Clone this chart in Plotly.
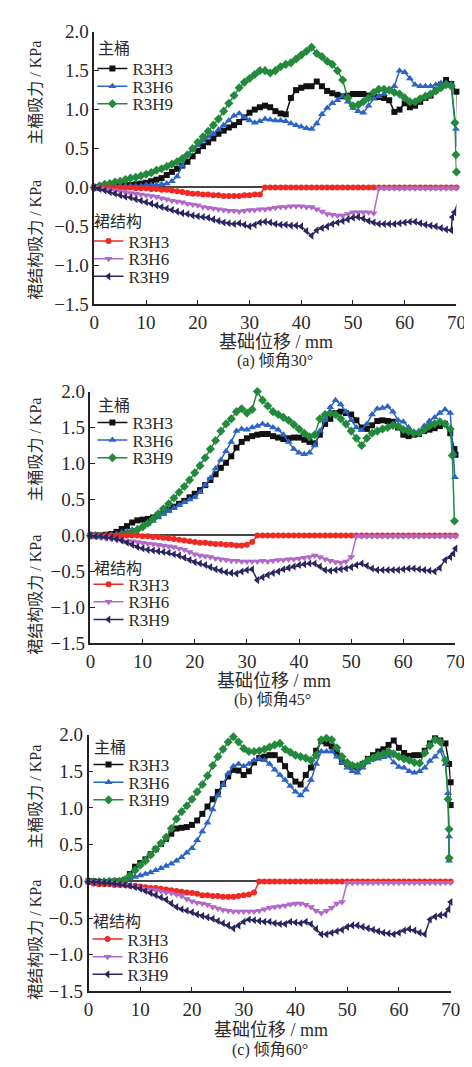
import plotly.graph_objects as go

# ---------------- data ----------------
X = list(range(0, 70))  # sampled displacement positions (mm)

# Panel (a) 30 deg - main bucket
A_MAIN_H3 = [0, 0, 0.01, 0.01, 0.02, 0.02, 0.03, 0.03, 0.04, 0.05, 0.06, 0.08, 0.1, 0.12, 0.16, 0.2,
             0.24, 0.28, 0.33, 0.4, 0.47, 0.53, 0.58, 0.63, 0.69, 0.73, 0.77, 0.8, 0.84, 0.9, 0.96,
             1.0, 1.03, 1.05, 1.03, 0.98, 0.95, 0.94, 1.15, 1.25, 1.28, 1.3, 1.3, 1.36, 1.3, 1.24,
             1.21, 1.19, 1.17, 1.18, 1.2, 1.2, 1.2, 1.18, 1.17, 1.16, 1.15, 1.12, 0.97, 1.0, 1.08,
             1.03, 1.05, 1.1, 1.15, 1.18, 1.25, 1.32, 1.38, 1.33]
A_MAIN_H3_END_X = [70, 70.3]
A_MAIN_H3_END_Y = [1.23, 0.75]
A_MAIN_H6 = [0, 0.01, 0.01, 0.01, 0.01, 0.02, 0.02, 0.02, 0.02, 0.02, 0.03, 0.03, 0.03, 0.04, 0.05, 0.08,
             0.14, 0.28, 0.42, 0.48, 0.54, 0.6, 0.65, 0.69, 0.74, 0.8, 0.86, 0.92, 0.95, 0.9, 0.86,
             0.83, 0.85, 0.88, 0.87, 0.86, 0.86, 0.85, 0.82, 0.8, 0.78, 0.76, 0.75, 0.82, 0.94, 1.02,
             1.08, 1.12, 1.17, 1.1, 1.02, 0.98, 0.96, 1.05, 1.14, 1.17, 1.2, 1.24, 1.3, 1.5, 1.48,
             1.4, 1.32, 1.3, 1.3, 1.3, 1.32, 1.34, 1.34, 1.33]
A_MAIN_H6_END_X = [69.9, 70.1]
A_MAIN_H6_END_Y = [0.75, 0.52]
A_MAIN_H9 = [0, 0.02, 0.04, 0.05, 0.07, 0.08, 0.1, 0.12, 0.13, 0.15, 0.17, 0.19, 0.22, 0.24, 0.27, 0.3,
             0.33, 0.37, 0.42, 0.5, 0.58, 0.65, 0.72, 0.8, 0.88, 0.98, 1.08, 1.18, 1.28, 1.35, 1.4,
             1.45, 1.5, 1.5, 1.47, 1.5, 1.55, 1.58, 1.6, 1.65, 1.7, 1.75, 1.8, 1.72, 1.68, 1.62,
             1.58, 1.5, 1.38, 1.15, 1.05, 1.06, 1.1, 1.15, 1.22, 1.26, 1.26, 1.25, 1.22, 1.2, 1.15,
             1.1, 1.1, 1.14, 1.17, 1.2, 1.24, 1.28, 1.32, 1.3]
A_MAIN_H9_END_X = [69.7, 69.9, 70]
A_MAIN_H9_END_Y = [0.83, 0.42, 0.2]

# Panel (a) - skirt
A_SKIRT_H3 = [0, 0, 0, 0, 0, 0, 0, 0, -0.01, -0.01, -0.01, -0.02, -0.02, -0.03, -0.03, -0.04,
              -0.05, -0.06, -0.07, -0.08, -0.08, -0.09, -0.09, -0.1, -0.1, -0.11, -0.11, -0.11, -0.11,
              -0.1, -0.1, -0.09, -0.09, 0, 0, 0, 0, 0, 0, 0, 0, 0, 0, 0, 0, 0, 0, 0, 0, 0, 0, 0, 0,
              0, 0, 0, 0, 0, 0, 0, 0, 0, 0, 0, 0, 0, 0, 0, 0, 0]
A_SKIRT_H3_END_X = [70]
A_SKIRT_H3_END_Y = [0]
A_SKIRT_H6 = [0, -0.01, -0.02, -0.03, -0.04, -0.05, -0.06, -0.07, -0.08, -0.09, -0.1, -0.11, -0.12,
              -0.14, -0.15, -0.17, -0.18, -0.19, -0.21, -0.22, -0.23, -0.25, -0.26, -0.27, -0.28,
              -0.29, -0.3, -0.3, -0.31, -0.3, -0.29, -0.29, -0.28, -0.28, -0.27, -0.26, -0.25, -0.25,
              -0.24, -0.24, -0.24, -0.25, -0.25, -0.28, -0.31, -0.34, -0.35, -0.36, -0.36, -0.34,
              -0.32, -0.32, -0.32, -0.32, -0.33, -0.01, -0.01, -0.01, -0.01, -0.01, -0.01, -0.01,
              -0.01, -0.01, -0.01, -0.01, -0.01, -0.01, -0.01, -0.01]
A_SKIRT_H6_END_X = [70]
A_SKIRT_H6_END_Y = [-0.01]
A_SKIRT_H9 = [0, -0.02, -0.04, -0.06, -0.08, -0.1, -0.12, -0.13, -0.15, -0.17, -0.19, -0.21, -0.23,
              -0.25, -0.27, -0.29, -0.31, -0.33, -0.34, -0.36, -0.37, -0.38, -0.39, -0.41, -0.43,
              -0.45, -0.46, -0.47, -0.46, -0.48, -0.5, -0.48, -0.45, -0.44, -0.45, -0.47, -0.48,
              -0.48, -0.49, -0.49, -0.5, -0.56, -0.62, -0.55, -0.52, -0.5, -0.47, -0.45, -0.43,
              -0.41, -0.39, -0.38, -0.4, -0.43, -0.45, -0.47, -0.47, -0.47, -0.47, -0.46, -0.45,
              -0.44, -0.44, -0.46, -0.48, -0.49, -0.5, -0.52, -0.54, -0.55]
A_SKIRT_H9_END_X = [69.2, 69.6, 70.2]
A_SKIRT_H9_END_Y = [-0.38, -0.32, -0.21]

# Panel (b) 45 deg - main bucket
B_MAIN_H3 = [0, 0, 0, 0.01, 0.02, 0.05, 0.09, 0.13, 0.18, 0.21, 0.22, 0.23, 0.25, 0.28, 0.32, 0.36,
             0.4, 0.44, 0.48, 0.53, 0.58, 0.63, 0.7, 0.77, 0.85, 0.94, 1.01, 1.1, 1.22, 1.3, 1.35,
             1.38, 1.4, 1.41, 1.41, 1.38, 1.36, 1.34, 1.35, 1.36, 1.36, 1.33, 1.3, 1.28, 1.4, 1.55,
             1.62, 1.7, 1.72, 1.7, 1.68, 1.6, 1.5, 1.48, 1.53, 1.59, 1.6, 1.59, 1.58, 1.5, 1.4,
             1.38, 1.4, 1.41, 1.45, 1.47, 1.49, 1.52, 1.55, 1.42]
B_MAIN_H3_END_X = [69.8, 70]
B_MAIN_H3_END_Y = [1.2, 1.12]
B_MAIN_H6 = [0, 0, 0, 0.01, 0.01, 0.02, 0.04, 0.06, 0.08, 0.1, 0.12, 0.16, 0.2, 0.25, 0.3, 0.34,
             0.38, 0.42, 0.46, 0.5, 0.53, 0.6, 0.7, 0.8, 0.93, 1.05, 1.17, 1.3, 1.45, 1.48, 1.47,
             1.5, 1.52, 1.55, 1.53, 1.5, 1.47, 1.4, 1.3, 1.2, 1.15, 1.13, 1.15, 1.25, 1.45, 1.6,
             1.78, 1.88, 1.82, 1.72, 1.6, 1.5, 1.46, 1.55, 1.68, 1.76, 1.77, 1.79, 1.72, 1.6, 1.58,
             1.5, 1.44, 1.45, 1.52, 1.59, 1.64, 1.7, 1.75, 1.7]
B_MAIN_H6_END_X = [69.6, 69.9]
B_MAIN_H6_END_Y = [1.15, 0.81]
B_MAIN_H9 = [0, 0, -0.01, -0.02, -0.02, -0.01, 0.0, 0.02, 0.05, 0.08, 0.12, 0.17, 0.23, 0.3, 0.37,
             0.44, 0.52, 0.6, 0.68, 0.77, 0.87, 0.97, 1.08, 1.2, 1.32, 1.45, 1.55, 1.62, 1.72, 1.76,
             1.7, 1.75, 2.0, 1.88, 1.8, 1.72, 1.68, 1.64, 1.6, 1.54, 1.48, 1.42, 1.37, 1.4, 1.62,
             1.68, 1.7, 1.68, 1.62, 1.55, 1.45, 1.35, 1.25, 1.35, 1.42, 1.45, 1.48, 1.5, 1.53, 1.52,
             1.47, 1.45, 1.42, 1.42, 1.47, 1.52, 1.55, 1.58, 1.55, 1.48]
B_MAIN_H9_END_X = [69.4, 69.8]
B_MAIN_H9_END_Y = [1.11, 0.2]

# Panel (b) - skirt
B_SKIRT_H3 = [0, 0, 0, 0, 0, 0, 0, 0, 0, 0, -0.01, -0.01, -0.02, -0.02, -0.03, -0.04, -0.05, -0.06,
              -0.07, -0.08, -0.09, -0.1, -0.1, -0.11, -0.12, -0.12, -0.13, -0.13, -0.14, -0.14,
              -0.13, -0.09, 0, 0, 0, 0, 0, 0, 0, 0, 0, 0, 0, 0, 0, 0, 0, 0, 0, 0, 0, 0, 0, 0, 0,
              0, 0, 0, 0, 0, 0, 0, 0, 0, 0, 0, 0, 0, 0, 0]
B_SKIRT_H3_END_X = [70]
B_SKIRT_H3_END_Y = [0]
B_SKIRT_H6 = [0, -0.01, -0.02, -0.03, -0.05, -0.06, -0.07, -0.08, -0.08, -0.09, -0.1, -0.11, -0.12,
              -0.13, -0.14, -0.15, -0.16, -0.18, -0.2, -0.23, -0.26, -0.28, -0.29, -0.3, -0.32,
              -0.33, -0.34, -0.35, -0.35, -0.36, -0.36, -0.36, -0.36, -0.35, -0.36, -0.35, -0.34,
              -0.34, -0.33, -0.33, -0.32, -0.31, -0.3, -0.28, -0.3, -0.33, -0.35, -0.37, -0.38,
              -0.36, -0.3, -0.01, -0.01, -0.01, -0.01, -0.01, -0.01, -0.01, -0.01, -0.01, -0.01,
              -0.01, -0.01, -0.01, -0.01, -0.01, -0.01, -0.01, -0.01, -0.01]
B_SKIRT_H6_END_X = [70]
B_SKIRT_H6_END_Y = [-0.01]
B_SKIRT_H9 = [0, -0.01, -0.01, -0.02, -0.03, -0.05, -0.07, -0.1, -0.13, -0.16, -0.18, -0.2, -0.21,
              -0.22, -0.23, -0.24, -0.26, -0.28, -0.31, -0.34, -0.37, -0.39, -0.41, -0.44, -0.47,
              -0.49, -0.51, -0.52, -0.53, -0.5, -0.48, -0.47, -0.62, -0.58, -0.55, -0.52, -0.5,
              -0.47, -0.45, -0.43, -0.41, -0.4, -0.39, -0.39, -0.43, -0.48, -0.49, -0.48, -0.47,
              -0.46, -0.44, -0.41, -0.39, -0.42, -0.46, -0.48, -0.48, -0.48, -0.48, -0.48, -0.47,
              -0.46, -0.46, -0.47, -0.48, -0.49, -0.5, -0.45, -0.34, -0.3]
B_SKIRT_H9_END_X = [69.6, 70]
B_SKIRT_H9_END_Y = [-0.25, -0.18]

# Panel (c) 60 deg - main bucket
C_MAIN_H3 = [0, 0, -0.01, -0.01, -0.01, 0, 0, 0.02, 0.1, 0.2, 0.25, 0.3, 0.37, 0.44, 0.51, 0.58,
             0.65, 0.72, 0.73, 0.74, 0.77, 0.83, 0.92, 1.02, 1.12, 1.22, 1.33, 1.43, 1.52, 1.51,
             1.45, 1.5, 1.62, 1.68, 1.7, 1.72, 1.72, 1.66, 1.57, 1.45, 1.36, 1.32, 1.45, 1.55, 1.78,
             1.91, 1.88, 1.84, 1.75, 1.63, 1.6, 1.57, 1.55, 1.6, 1.67, 1.72, 1.77, 1.8, 1.86, 1.92,
             1.82, 1.75, 1.71, 1.72, 1.72, 1.78, 1.88, 1.95, 1.92, 1.88]
C_MAIN_H3_END_X = [69.7, 70, 70]
C_MAIN_H3_END_Y = [1.6, 1.35, 1.04]
C_MAIN_H6 = [0, 0.01, 0.01, 0.01, 0.01, 0.01, 0.01, 0.02, 0.04, 0.06, 0.08, 0.1, 0.12, 0.15, 0.18,
             0.21, 0.24, 0.28, 0.33, 0.39, 0.45, 0.56, 0.68, 0.8, 0.98, 1.17, 1.32, 1.47, 1.57, 1.6,
             1.57, 1.6, 1.65, 1.67, 1.65, 1.6, 1.52, 1.45, 1.38, 1.3, 1.22, 1.17, 1.25, 1.38, 1.6,
             1.77, 1.77, 1.77, 1.7, 1.62, 1.55, 1.5, 1.48, 1.55, 1.62, 1.66, 1.67, 1.69, 1.71, 1.62,
             1.56, 1.55, 1.5, 1.48, 1.5, 1.55, 1.64, 1.7, 1.78, 1.6]
C_MAIN_H6_END_X = [69.5, 69.7, 69.7]
C_MAIN_H6_END_Y = [1.2, 0.61, 0.28]
C_MAIN_H9 = [0, -0.01, -0.01, -0.01, 0, 0, 0, 0.02, 0.08, 0.15, 0.22, 0.28, 0.36, 0.44, 0.52, 0.6,
             0.72, 0.85, 0.95, 1.03, 1.12, 1.22, 1.32, 1.44, 1.58, 1.7, 1.8, 1.9, 1.97, 1.9, 1.81,
             1.77, 1.77, 1.78, 1.8, 1.83, 1.86, 1.88, 1.8, 1.76, 1.72, 1.7, 1.68, 1.65, 1.72, 1.93,
             1.95, 1.93, 1.82, 1.7, 1.62, 1.58, 1.57, 1.6, 1.65, 1.68, 1.72, 1.74, 1.77, 1.74, 1.7,
             1.67, 1.65, 1.62, 1.61, 1.75, 1.85, 1.93, 1.9, 1.65]
C_MAIN_H9_END_X = [69.5, 69.7, 69.7]
C_MAIN_H9_END_Y = [1.12, 0.71, 0.32]

# Panel (c) - skirt
C_SKIRT_H3 = [0, -0.03, -0.04, -0.04, -0.04, -0.05, -0.05, -0.05, -0.06, -0.06, -0.07, -0.08, -0.09,
              -0.09, -0.1, -0.11, -0.12, -0.13, -0.14, -0.15, -0.16, -0.17, -0.19, -0.19, -0.2, -0.2,
              -0.21, -0.21, -0.21, -0.2, -0.19, -0.18, -0.15, 0, 0, 0, 0, 0, 0, 0, 0, 0, 0, 0, 0, 0,
              0, 0, 0, 0, 0, 0, 0, 0, 0, 0, 0, 0, 0, 0, 0, 0, 0, 0, 0, 0, 0, 0, 0, 0]
C_SKIRT_H3_END_X = [70]
C_SKIRT_H3_END_Y = [0]
C_SKIRT_H6 = [0, -0.01, -0.01, -0.02, -0.02, -0.03, -0.04, -0.05, -0.06, -0.07, -0.09, -0.1, -0.11,
              -0.12, -0.13, -0.15, -0.16, -0.18, -0.2, -0.24, -0.27, -0.29, -0.3, -0.32, -0.35,
              -0.37, -0.39, -0.4, -0.41, -0.41, -0.41, -0.41, -0.41, -0.4, -0.38, -0.36, -0.35,
              -0.34, -0.33, -0.31, -0.3, -0.3, -0.32, -0.35, -0.4, -0.43, -0.4, -0.36, -0.3, -0.28,
              -0.02, -0.02, -0.02, -0.02, -0.02, -0.02, -0.02, -0.02, -0.02, -0.02, -0.02, -0.02,
              -0.02, -0.02, -0.02, -0.02, -0.02, -0.02, -0.02, -0.02]
C_SKIRT_H6_END_X = [70]
C_SKIRT_H6_END_Y = [-0.02]
C_SKIRT_H9 = [0, -0.01, -0.01, -0.02, -0.02, -0.03, -0.04, -0.05, -0.06, -0.08, -0.1, -0.13, -0.16,
              -0.19, -0.22, -0.25, -0.3, -0.35, -0.38, -0.4, -0.42, -0.45, -0.47, -0.49, -0.51,
              -0.54, -0.57, -0.6, -0.64, -0.6, -0.55, -0.52, -0.53, -0.54, -0.55, -0.55, -0.57,
              -0.58, -0.58, -0.55, -0.56, -0.57, -0.55, -0.58, -0.65, -0.72, -0.72, -0.7, -0.68,
              -0.66, -0.62, -0.6, -0.6, -0.62, -0.64, -0.66, -0.68, -0.7, -0.71, -0.72, -0.7, -0.67,
              -0.65, -0.67, -0.7, -0.72, -0.52, -0.48, -0.46, -0.45]
C_SKIRT_H9_END_X = [69.6, 70]
C_SKIRT_H9_END_Y = [-0.38, -0.28]

SERIES_NAMES = ["R3H3", "R3H6", "R3H9"]
GROUP_TITLES = ["主桶", "裙结构"]
Y_TITLES = ["主桶吸力 / KPa", "裙结构吸力 / KPa"]
X_TITLE = "基础位移 / mm"
CAPTIONS = ["(a) 倾角30°", "(b) 倾角45°", "(c) 倾角60°"]
X_TICKS = [0, 10, 20, 30, 40, 50, 60, 70]
Y_TICKS = [-1.5, -1.0, -0.5, 0.0, 0.5, 1.0, 1.5, 2.0]

# ---------------- style ----------------
W, H = 472, 1067
SERIF = "Liberation Serif, Noto Sans CJK SC"
TXT = "#2a2a2a"
MAIN_STYLE = [("#111111", "square", 6), ("#2b63c6", "triangle-up", 7), ("#23893c", "diamond", 7)]
SKIRT_STYLE = [("#ee2a24", "circle", 6), ("#b168c8", "triangle-down", 7), ("#29255e", "triangle-left", 7)]

# pixel layout per panel
PANELS = [
    dict(x0=84, x1=458, y0=14, y1=292, ytit=(23, 76, 226), xtit_y=330, cap_y=350,
         main_leg=(82, [52, 70, 88], 31), skirt_leg=(78, [228, 246, 264], 208)),
    dict(x0=80, x1=457, y0=381, y1=638, ytit=(23, 440, 588), xtit_y=676, cap_y=696,
         main_leg=(82, [413, 431, 449], 395), skirt_leg=(78, [578, 596, 614], 562)),
    dict(x0=78, x1=452, y0=731, y1=993, ytit=(23, 794, 940), xtit_y=1032, cap_y=1053,
         main_leg=(78, [762, 780, 798], 744), skirt_leg=(77, [940, 958, 976], 922)),
]

DATA = [
    ([(A_MAIN_H3, A_MAIN_H3_END_X, A_MAIN_H3_END_Y), (A_MAIN_H6, A_MAIN_H6_END_X, A_MAIN_H6_END_Y),
      (A_MAIN_H9, A_MAIN_H9_END_X, A_MAIN_H9_END_Y)],
     [(A_SKIRT_H3, A_SKIRT_H3_END_X, A_SKIRT_H3_END_Y), (A_SKIRT_H6, A_SKIRT_H6_END_X, A_SKIRT_H6_END_Y),
      (A_SKIRT_H9, A_SKIRT_H9_END_X, A_SKIRT_H9_END_Y)]),
    ([(B_MAIN_H3, B_MAIN_H3_END_X, B_MAIN_H3_END_Y), (B_MAIN_H6, B_MAIN_H6_END_X, B_MAIN_H6_END_Y),
      (B_MAIN_H9, B_MAIN_H9_END_X, B_MAIN_H9_END_Y)],
     [(B_SKIRT_H3, B_SKIRT_H3_END_X, B_SKIRT_H3_END_Y), (B_SKIRT_H6, B_SKIRT_H6_END_X, B_SKIRT_H6_END_Y),
      (B_SKIRT_H9, B_SKIRT_H9_END_X, B_SKIRT_H9_END_Y)]),
    ([(C_MAIN_H3, C_MAIN_H3_END_X, C_MAIN_H3_END_Y), (C_MAIN_H6, C_MAIN_H6_END_X, C_MAIN_H6_END_Y),
      (C_MAIN_H9, C_MAIN_H9_END_X, C_MAIN_H9_END_Y)],
     [(C_SKIRT_H3, C_SKIRT_H3_END_X, C_SKIRT_H3_END_Y), (C_SKIRT_H6, C_SKIRT_H6_END_X, C_SKIRT_H6_END_Y),
      (C_SKIRT_H9, C_SKIRT_H9_END_X, C_SKIRT_H9_END_Y)]),
]


def fx(px):
    return px / W


def fy(py):
    return 1 - py / H


fig = go.Figure()
layout = dict(width=W, height=H, margin=dict(l=0, r=0, t=0, b=0),
              plot_bgcolor="white", paper_bgcolor="white", showlegend=True,
              font=dict(family=SERIF, color=TXT))
annotations = []
leg_idx = 0

for p, (panel, (main_series, skirt_series)) in enumerate(zip(PANELS, DATA)):
    sfx = "" if p == 0 else str(p + 1)
    xa, ya = "x" + sfx, "y" + sfx
    axis_common = dict(showline=True, linecolor="#222", linewidth=1.5, ticks="inside", ticklen=5,
                       tickwidth=1.3, tickcolor="#222", showgrid=False, mirror=False,
                       tickfont=dict(family=SERIF, size=19, color=TXT))
    layout["xaxis" + sfx] = dict(axis_common, domain=[fx(panel["x0"]), fx(panel["x1"])],
                                 range=[0, 70], tickvals=X_TICKS, anchor=ya, zeroline=False)
    layout["yaxis" + sfx] = dict(axis_common, domain=[fy(panel["y1"]), fy(panel["y0"])],
                                 range=[-1.5, 2.0], tickvals=Y_TICKS, tickformat=".1f", anchor=xa,
                                 zeroline=True, zerolinecolor="#444", zerolinewidth=1.5)

    for group, (series, styles, leg) in enumerate([(main_series, MAIN_STYLE, panel["main_leg"]),
                                                   (skirt_series, SKIRT_STYLE, panel["skirt_leg"])]):
        lx, lys, ty = leg
        for i, ((vals, ex, ey), (col, sym, ms)) in enumerate(zip(series, styles)):
            leg_idx += 1
            lname = "legend" if leg_idx == 1 else "legend%d" % leg_idx
            fig.add_trace(go.Scatter(
                x=X + ex, y=vals + ey, mode="lines+markers", name=SERIES_NAMES[i],
                line=dict(color=col, width=1.5), marker=dict(symbol=sym, size=ms, color=col),
                xaxis=xa, yaxis=ya, legend=lname, cliponaxis=False))
            layout[lname] = dict(x=fx(lx), y=fy(lys[i]), xanchor="left", yanchor="middle",
                                 bgcolor="rgba(0,0,0,0)", itemwidth=30,
                                 font=dict(family=SERIF, size=17, color=TXT))
        annotations.append(dict(text=GROUP_TITLES[group], x=fx(lx + 4), y=fy(ty), xref="paper",
                                yref="paper", xanchor="left", yanchor="middle", showarrow=False,
                                font=dict(family=SERIF, size=16, color=TXT)))

    xt, yt_main, yt_skirt = panel["ytit"]
    for txt, yc in zip(Y_TITLES, [yt_main, yt_skirt]):
        annotations.append(dict(text=txt, x=fx(xt), y=fy(yc), xref="paper", yref="paper",
                                textangle=-90, showarrow=False, xanchor="center", yanchor="middle",
                                font=dict(family=SERIF, size=16, color=TXT)))
    xc = (panel["x0"] + panel["x1"]) / 2
    annotations.append(dict(text=X_TITLE, x=fx(xc + 1), y=fy(panel["xtit_y"]), xref="paper",
                            yref="paper", showarrow=False, xanchor="center", yanchor="middle",
                            font=dict(family=SERIF, size=18, color=TXT)))
    annotations.append(dict(text=CAPTIONS[p], x=fx(xc), y=fy(panel["cap_y"]), xref="paper",
                            yref="paper", showarrow=False, xanchor="center", yanchor="middle",
                            font=dict(family=SERIF, size=16, color=TXT)))

layout["annotations"] = annotations
fig.update_layout(**layout)
fig.write_html("out.html")
